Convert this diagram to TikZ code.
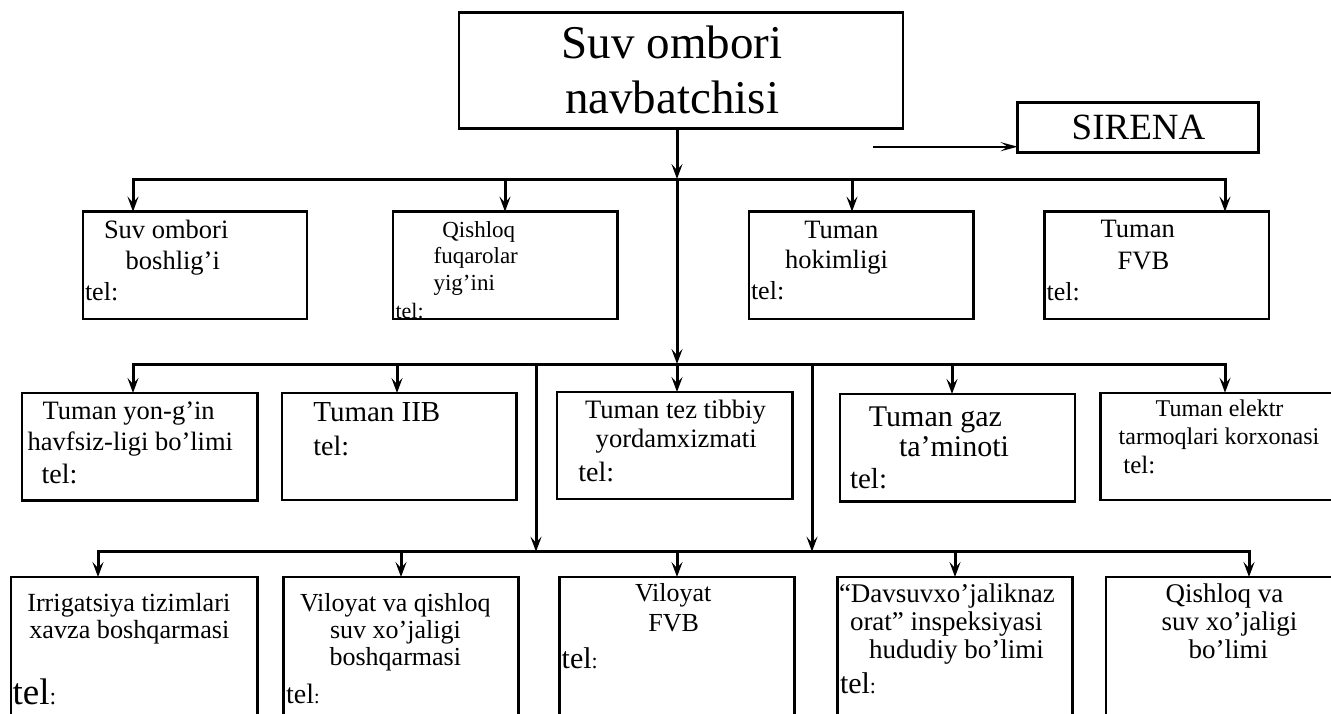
\documentclass[tikz,border=0pt]{standalone}
\usepackage{fontspec}
\setmainfont{Liberation Serif}
\usetikzlibrary{arrows.meta}
\newcommand{\myfs}[1]{\fontsize{#1}{#1}\selectfont}
\begin{document}
\begin{tikzpicture}[x=1pt,y=-1pt,
  box/.style={draw,line width=2.5pt,rectangle,inner sep=0pt,outer sep=0pt},
  con/.style={line width=3pt,line cap=rect},
  arr/.style={line width=3pt,-{Stealth[length=15pt,width=11pt,inset=6pt]}},
  lbl/.style={anchor=base west,inner sep=0pt,outer sep=0pt}]
\clip (0,0) rectangle (1331,713);
\fill[white] (0,0) rectangle (1331,713);
% boxes
\node[box,minimum width=444pt,minimum height=116pt] (top) at (681,70.3) {};
\node[box,minimum width=240.6pt,minimum height=49.6pt] (sirena) at (1138,127.5) {};
\node[box,minimum width=224pt,minimum height=107.3pt] (b11) at (195,265.3) {};
\node[box,minimum width=224.7pt,minimum height=107.3pt] (b12) at (505.3,265.3) {};
\node[box,minimum width=224.3pt,minimum height=107.3pt] (b13) at (861.2,265.3) {};
\node[box,minimum width=224.7pt,minimum height=107.3pt] (b14) at (1156.7,265.3) {};
\node[box,minimum width=235.3pt,minimum height=107.7pt] (b21) at (139.7,446.8) {};
\node[box,minimum width=234.7pt,minimum height=107pt] (b22) at (399.3,446.5) {};
\node[box,minimum width=235.7pt,minimum height=107pt] (b23) at (674.8,445.5) {};
\node[box,minimum width=235pt,minimum height=107.7pt] (b24) at (957.5,447.8) {};
\node[box,minimum width=235pt,minimum height=107.3pt] (b25) at (1218.2,446.4) {};
\node[box,minimum width=246.3pt,minimum height=183pt] (b31) at (134.2,668.5) {};
\node[box,minimum width=235pt,minimum height=183pt] (b32) at (400.8,668.5) {};
\node[box,minimum width=235pt,minimum height=183pt] (b33) at (676.8,668.5) {};
\node[box,minimum width=235pt,minimum height=183pt] (b34) at (955.2,668.5) {};
\node[box,minimum width=235pt,minimum height=183pt] (b35) at (1223.5,668.5) {};
% texts
\node[lbl,font=\myfs{47}] (t0a) at (561.7,58.3) {Suv ombori};
\node[lbl,font=\myfs{47}] (t0b) at (565,113.3) {navbatchisi};
\node[lbl,font=\myfs{37}] (ts) at (1071.7,139.3) {SIRENA};
\node[lbl,font=\myfs{26.5}] (t11a) at (104,238.3) {Suv ombori};
\node[lbl,font=\myfs{26.5}] (t11b) at (125.7,269) {boshlig’i};
\node[lbl,font=\myfs{26}] (t11c) at (85,300) {tel:};
\node[lbl,font=\myfs{23}] (t12a) at (442.3,237.5) {Qishloq};
\node[lbl,font=\myfs{23}] (t12b) at (433.6,263.3) {fuqarolar};
\node[lbl,font=\myfs{23}] (t12c) at (433.6,290) {yig’ini};
\node[lbl,font=\myfs{22}] (t12d) at (395.5,318.3) {tel:};
\node[lbl,font=\myfs{26.5}] (t13a) at (804.3,238.3) {Tuman};
\node[lbl,font=\myfs{26.5}] (t13b) at (785,268.3) {hokimligi};
\node[lbl,font=\myfs{26}] (t13c) at (751,299) {tel:};
\node[lbl,font=\myfs{26.5}] (t14a) at (1100.7,237.3) {Tuman};
\node[lbl,font=\myfs{26.5}] (t14b) at (1117.7,269) {FVB};
\node[lbl,font=\myfs{26}] (t14c) at (1046.7,300) {tel:};
\node[lbl,font=\myfs{26.5}] (t21a) at (42.7,419.3) {Tuman yon-g’in};
\node[lbl,font=\myfs{26.5}] (t21b) at (27.7,450) {havfsiz-ligi bo’limi};
\node[lbl,font=\myfs{28}] (t21c) at (41.7,483.3) {tel:};
\node[lbl,font=\myfs{29}] (t22a) at (313.3,421.7) {Tuman IIB};
\node[lbl,font=\myfs{28}] (t22b) at (313.3,455) {tel:};
\node[lbl,font=\myfs{26.6}] (t23a) at (585,418.3) {Tuman tez tibbiy};
\node[lbl,font=\myfs{26.6}] (t23b) at (595.7,447.7) {yordamxizmati};
\node[lbl,font=\myfs{28}] (t23c) at (578.3,481.7) {tel:};
\node[lbl,font=\myfs{30}] (t24a) at (868.9,426.7) {Tuman gaz};
\node[lbl,font=\myfs{30}] (t24b) at (899,456.7) {ta’minoti};
\node[lbl,font=\myfs{29}] (t24c) at (850,488.3) {tel:};
\node[lbl,font=\myfs{24}] (t25a) at (1155.7,416.7) {Tuman elektr};
\node[lbl,font=\myfs{24}] (t25b) at (1118.7,444.3) {tarmoqlari korxonasi};
\node[lbl,font=\myfs{25}] (t25c) at (1123.3,473.3) {tel:};
\node[lbl,font=\myfs{26.2}] (t31a) at (27.3,611.7) {Irrigatsiya tizimlari};
\node[lbl,font=\myfs{26.2}] (t31b) at (29.3,638.3) {xavza boshqarmasi};
\node[lbl,font=\myfs{37}] (t31c) at (12.7,704) {tel{\myfs{24}:}};
\node[lbl,font=\myfs{26}] (t32a) at (300,611.7) {Viloyat va qishloq};
\node[lbl,font=\myfs{26}] (t32b) at (330,638) {suv xo’jaligi};
\node[lbl,font=\myfs{26}] (t32c) at (329.6,665) {boshqarmasi};
\node[lbl,font=\myfs{28}] (t32d) at (286.2,703) {tel{\myfs{20}:}};
\node[lbl,font=\myfs{26}] (t33a) at (635,601.7) {Viloyat};
\node[lbl,font=\myfs{26}] (t33b) at (648.3,631.7) {FVB};
\node[lbl,font=\myfs{30}] (t33c) at (561.7,668.3) {tel{\myfs{22}:}};
\node[lbl,font=\myfs{27}] (t34a) at (839,602.7) {“Davsuvxo’jaliknaz};
\node[lbl,font=\myfs{27}] (t34b) at (850,630) {orat” inspeksiyasi};
\node[lbl,font=\myfs{27}] (t34c) at (869,658.3) {hududiy bo’limi};
\node[lbl,font=\myfs{30}] (t34d) at (840,693) {tel{\myfs{22}:}};
\node[lbl,font=\myfs{27}] (t35a) at (1165.7,602.7) {Qishloq va};
\node[lbl,font=\myfs{27}] (t35b) at (1161.5,630) {suv xo’jaligi};
\node[lbl,font=\myfs{27}] (t35c) at (1188.5,658.3) {bo’limi};
% bus coordinates
\coordinate (c1) at (677,179);
\coordinate (c2) at (677,364);
\coordinate (b1L) at (133,179);
\coordinate (b1R) at (1225,179);
\coordinate (b2L) at (133,364);
\coordinate (b2R) at (1225,364);
\coordinate (b3L) at (98,551.7);
\coordinate (b3R) at (1249,551.7);
\coordinate (v1) at (536,364);
\coordinate (v2) at (812,364);
\coordinate (s0) at (873,146.7);
% connectors
\draw[arr] (top.south -| c1) -- (c1);
\draw[line width=2.4pt,-{Stealth[length=17pt,width=9pt,inset=7pt]}] (s0) -- (s0 -| sirena.west);
\draw[con] (b1L) -- (b1R);
\draw[arr] (b1L) -- (b1L |- b11.north);
\draw[arr] (505,179) -- (505,0 |- b12.north);
\draw[arr] (852,179) -- (852,0 |- b13.north);
\draw[arr] (b1R) -- (b1R |- b14.north);
\draw[arr] (c1) -- (c2);
\draw[con] (b2L) -- (b2R);
\draw[arr] (b2L) -- (b2L |- b21.north);
\draw[arr] (397,364) -- (397,0 |- b22.north);
\draw[arr] (c2) -- (c2 |- b23.north);
\draw[arr] (952,364) -- (952,0 |- b24.north);
\draw[arr] (b2R) -- (b2R |- b25.north);
\draw[arr] (v1) -- (v1 |- b3L);
\draw[arr] (v2) -- (v2 |- b3L);
\draw[con] (b3L) -- (b3R);
\draw[arr] (b3L) -- (b3L |- b31.north);
\draw[arr] (401,551.7) -- (401,0 |- b32.north);
\draw[arr] (677,551.7) -- (677,0 |- b33.north);
\draw[arr] (955,551.7) -- (955,0 |- b34.north);
\draw[arr] (b3R) -- (b3R |- b35.north);
\end{tikzpicture}
\end{document}
